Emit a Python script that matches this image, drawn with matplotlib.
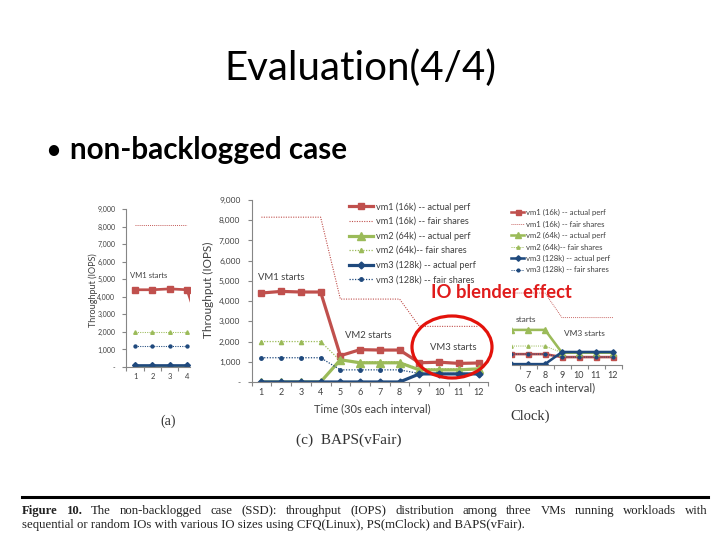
import matplotlib
matplotlib.use("Agg")
import matplotlib.pyplot as plt
from matplotlib.patches import Ellipse
from matplotlib.lines import Line2D
import numpy as np

plt.rcParams['font.family'] = ['Lato', 'DejaVu Sans']

# ---- data ----
# (c) BAPS(vFair), the main chart
intervals = [1, 2, 3, 4, 5, 6, 7, 8, 9, 10, 11, 12]
vm1_actual = [4400, 4480, 4450, 4450, 1300, 1600, 1580, 1580, 950, 980, 920, 940]
vm1_fair = [8150, 8150, 8150, 8150, 4100, 4100, 4100, 4100, 2750, 2750, 2750, 2750]
vm2_actual = [0, 0, 0, 0, 1100, 950, 950, 950, 600, 600, 600, 650]
vm2_fair = [2000, 2000, 2000, 2000, 1050, 1000, 1000, 1000, 650, 650, 650, 650]
vm3_actual = [0, 0, 0, 0, 0, 0, 0, 0, 400, 400, 400, 400]
vm3_fair = [1200, 1200, 1200, 1200, 600, 600, 600, 600, 420, 420, 420, 420]

# (a) CFQ(Linux), only the first intervals show
cfq_x = [1, 2, 3, 4]
cfq_vm1_actual = [4400, 4400, 4450, 4400]
cfq_vm1_fair = [8100, 8100, 8100, 8100]
cfq_vm2_actual = [0, 0, 0, 0]
cfq_vm2_fair = [2000, 2000, 2000, 2000]
cfq_vm3_actual = [100, 100, 100, 100]
cfq_vm3_fair = [1200, 1200, 1200, 1200]
cfq_vm1_next = 1500  # interval 5, mostly hidden

# (b) PS(mClock), only the last intervals show
ps_x = [5, 6, 7, 8, 9, 10, 11, 12]
ps_vm1_actual = [620, 620, 620, 620, 450, 450, 450, 450]
ps_vm1_fair = [4100, 4100, 4100, 4100, 2700, 2700, 2700, 2700]
ps_vm2_actual = [2000, 2000, 2000, 2000, 700, 700, 700, 700]
ps_vm2_fair = [1080, 1080, 1080, 1080, 700, 700, 700, 700]
ps_vm3_actual = [50, 50, 50, 50, 740, 740, 740, 740]
ps_vm3_fair = [620, 620, 620, 620, 450, 450, 450, 450]

labels = ["vm1 (16k) -- actual perf", "vm1 (16k) -- fair shares",
          "vm2 (64k) -- actual perf", "vm2 (64k)-- fair shares",
          "vm3 (128k) -- actual perf", "vm3 (128k) -- fair shares"]
ytick_values = [0, 1000, 2000, 3000, 4000, 5000, 6000, 7000, 8000, 9000]
ytick_labels = ["-", "1,000", "2,000", "3,000", "4,000", "5,000",
                "6,000", "7,000", "8,000", "9,000"]

RED = '#C0504D'
GREEN = '#9BBB59'
BLUE = '#1F497D'
AXIS = '#868686'
TXT = '#404040'

W, H = 720, 540
fig = plt.figure(figsize=(7.2, 5.4), dpi=100)


def add_ax(x0, y0, x1, y1, z):
    # pixel box of the slide -> figure fraction
    return fig.add_axes([x0 / W, 1 - y1 / H, (x1 - x0) / W, (y1 - y0) / H], zorder=z)


def style_ax(ax, xlim, shown, fs, left_spine=True):
    ax.patch.set_alpha(0)
    for s in ['top', 'right']:
        ax.spines[s].set_visible(False)
    ax.spines['left'].set_visible(left_spine)
    ax.spines['left'].set_color(AXIS)
    ax.spines['bottom'].set_color(AXIS)
    ax.spines['left'].set_linewidth(0.8)
    ax.spines['bottom'].set_linewidth(0.8)
    ax.set_xticks(np.arange(0.5, 13, 1))
    ax.set_xticklabels([])
    ax.set_xticks(shown, minor=True)
    ax.set_xticklabels([str(v) for v in shown], minor=True)
    ax.tick_params(axis='x', which='major', length=3, color=AXIS, direction='out')
    ax.tick_params(axis='x', which='minor', length=0, pad=4, labelsize=fs, labelcolor=TXT)
    if left_spine:
        ax.set_yticks(ytick_values)
        ax.set_yticklabels(ytick_labels)
        ax.tick_params(axis='y', length=3, color=AXIS, labelsize=fs - 0.5,
                       labelcolor=TXT, pad=5)
    else:
        ax.set_yticks([])
    # limits last: set_xticks would widen them
    ax.set_xlim(*xlim)
    ax.set_ylim(0, 9000)


def draw(ax, x, a1, f1, a2, f2, a3, f3, k=1.0):
    h = []
    h += ax.plot(x, a1, color=RED, lw=2.3 * k, marker='s', ms=4.5 * k)
    h += ax.plot(x, f1, color=RED, lw=0.8 * k, ls=(0, (1, 1.2)))
    h += ax.plot(x, a2, color=GREEN, lw=2.3 * k, marker='^', ms=5.5 * k)
    h += ax.plot(x, f2, color=GREEN, lw=0.9 * k, ls=(0, (1, 1.2)), marker='^', ms=3 * k)
    h += ax.plot(x, a3, color=BLUE, lw=2.3 * k, marker='D', ms=3.5 * k)
    h += ax.plot(x, f3, color=BLUE, lw=0.9 * k, ls=(0, (1, 1.2)), marker='o', ms=2.5 * k)
    return h


# ---- (a) left, mostly covered ----
ax_a = add_ax(126.5, 209, 190, 367, 1)
ax_a.plot([4, 5], [cfq_vm1_actual[-1], cfq_vm1_next], color=RED, lw=2)
draw(ax_a, cfq_x, cfq_vm1_actual, cfq_vm1_fair, cfq_vm2_actual, cfq_vm2_fair,
     cfq_vm3_actual, cfq_vm3_fair, k=0.85)
style_ax(ax_a, (0.5, 0.5 + (190 - 126.5) / 17.3), cfq_x, 5.5)
fig.text(93 / W, 1 - 290 / H, "Throughput (IOPS)", rotation=90, ha='center',
         va='center', fontsize=6.5, color=TXT)
fig.text(130 / W, 1 - 275 / H, "VM1 starts", ha='left', va='center',
         fontsize=5.5, color=TXT)
fig.text(160 / W, 1 - 421 / H, "(a)", ha='left', va='center', fontsize=10,
         family='Liberation Serif', color='#333333')

# ---- (b) right, mostly covered ----
ax_b = add_ax(512, 207, 621.5, 365, 1)
hb = draw(ax_b, ps_x, ps_vm1_actual, ps_vm1_fair, ps_vm2_actual, ps_vm2_fair,
          ps_vm3_actual, ps_vm3_fair, k=0.8)
style_ax(ax_b, (12.5 - (621.5 - 512) / 17, 12.5), [7, 8, 9, 10, 11, 12], 6.5,
         left_spine=False)
ax_b.legend(hb, labels, loc='upper left', bbox_to_anchor=(511 / W, 1 - 209 / H),
            bbox_transform=fig.transFigure, frameon=False, fontsize=5.6,
            handlelength=1.7, handletextpad=0.25, labelspacing=0.55,
            borderpad=0, borderaxespad=0, labelcolor=TXT)
fig.text(516 / W, 1 - 320 / H, "starts", fontsize=6, va='center', color=TXT)
fig.text(564 / W, 1 - 333 / H, "VM3 starts", fontsize=6, va='center', color=TXT)
fig.text(515 / W, 1 - 388 / H, "0s each interval)", fontsize=8, va='center', color=TXT)
fig.text(510 / W, 1 - 416 / H, "Clock)", fontsize=10.5, va='center',
         family='Liberation Serif', color='#333333')

# ---- (c) main chart ----
ax_c = add_ax(251.5, 200, 488.5, 382, 3)
hc = draw(ax_c, intervals, vm1_actual, vm1_fair, vm2_actual, vm2_fair,
          vm3_actual, vm3_fair)
style_ax(ax_c, (0.5, 12.5), intervals, 6.5)
ax_c.legend(hc, labels, loc='upper left', bbox_to_anchor=(349 / W, 1 - 202 / H),
            bbox_transform=fig.transFigure, frameon=False, fontsize=6.6,
            handlelength=2.6, handletextpad=0.3, labelspacing=0.58,
            borderpad=0, borderaxespad=0, labelcolor=TXT)
fig.text(208 / W, 1 - 290 / H, "Throughput (IOPS)", rotation=90, ha='center',
         va='center', fontsize=8.5, color=TXT)
fig.text(372 / W, 1 - 409 / H, "Time (30s each interval)", ha='center',
         va='center', fontsize=8, color=TXT)
fig.text(258 / W, 1 - 278 / H, "VM1 starts", fontsize=6.8, va='center', color=TXT)
fig.text(345 / W, 1 - 336 / H, "VM2 starts", fontsize=6.8, va='center', color=TXT)
fig.text(430 / W, 1 - 348 / H, "VM3 starts", fontsize=6.8, va='center', color=TXT)
fig.text(349 / W, 1 - 440 / H, "(c)  BAPS(vFair)", ha='center', va='center',
         fontsize=11, family='Liberation Serif', color='#333333')

# ---- overlays ----
fig.patches.append(Ellipse((452 / W, 1 - 347 / H), 80 / W, 62 / H,
                           transform=fig.transFigure, fill=False,
                           edgecolor='#E3120B', lw=2.3, zorder=10))
fig.text(501 / W, 1 - 292 / H, "IO blender effect", ha='center', va='center',
         fontsize=13.2, fontweight='bold', color='#E01B1B', zorder=11)

# slide title and bullet
fig.text(360 / W, 1 - 68 / H, "Evaluation(4/4)", ha='center', va='center',
         fontsize=29, color='black')
fig.text(45 / W, 1 - 151 / H, "•", ha='left', va='center', fontsize=20, color='black')
fig.text(70 / W, 1 - 150 / H, "non-backlogged case", ha='left', va='center',
         fontsize=21.3, fontweight='bold', color='black')

# figure caption under a thick rule
fig.lines.append(Line2D([22 / W, 708 / W], [1 - 497 / H, 1 - 497 / H],
                        transform=fig.transFigure, color='black', lw=2.2))

renderer = fig.canvas.get_renderer()
cap_words = ("The non-backlogged case (SSD): throughput (IOPS) distribution among "
             "three VMs running workloads with").split()
parts = [("Figure", 'bold'), ("10.", 'bold')] + [(w, 'normal') for w in cap_words]
texts = []
for w, wt in parts:
    t = fig.text(0, 1 - 511 / H, w, fontsize=9.2, fontweight=wt, va='center',
                 family='Liberation Serif', color='#222222')
    texts.append(t)
widths = [t.get_window_extent(renderer).width for t in texts]
gap = (686 - sum(widths)) / (len(texts) - 1)
x = 22.0
for t, w in zip(texts, widths):
    t.set_x(x / W)
    x += w + gap
fig.text(22 / W, 1 - 525 / H,
         "sequential or random IOs with various IO sizes using CFQ(Linux), "
         "PS(mClock) and BAPS(vFair).", fontsize=9.2, va='center',
         family='Liberation Serif', color='#222222')

fig.savefig("out.png", dpi=100)
